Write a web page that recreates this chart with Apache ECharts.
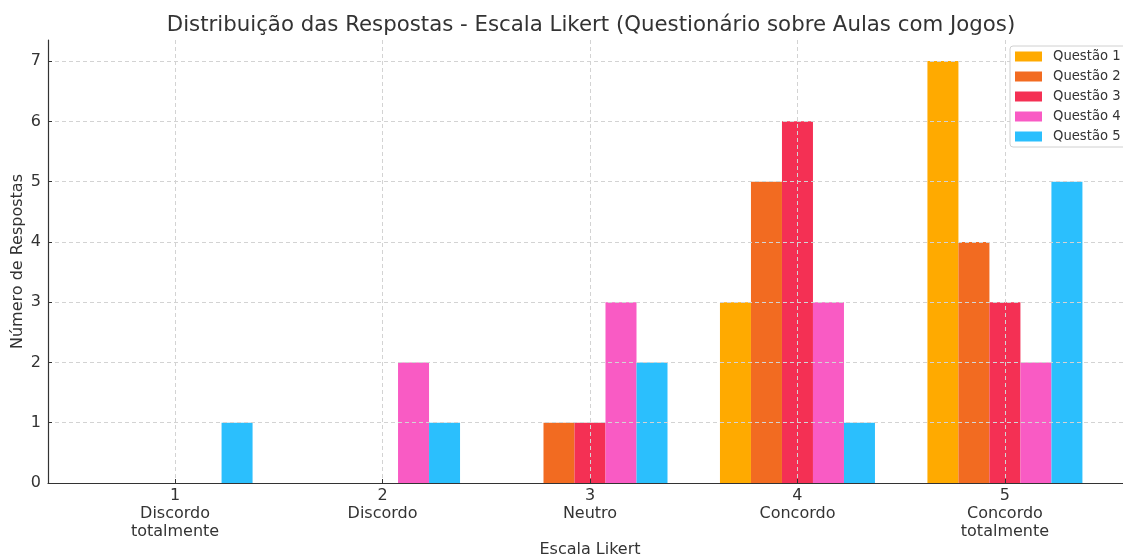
<!DOCTYPE html>
<html>
<head>
<meta charset="utf-8">
<script src="https://cdn.jsdelivr.net/npm/echarts@6/dist/echarts.min.js"></script>
<style>html,body{margin:0;padding:0;background:#fff;}#c{width:1123px;height:560px;}</style>
</head>
<body>
<div id="c"></div>
<script>
const likertValues = [1, 2, 3, 4, 5];
const likertLabels = ['Discordo\ntotalmente', 'Discordo', 'Neutro', 'Concordo', 'Concordo\ntotalmente'];
const seriesNames = ['Questão 1', 'Questão 2', 'Questão 3', 'Questão 4', 'Questão 5'];
const q1 = [0, 0, 0, 3, 7];
const q2 = [0, 0, 1, 5, 4];
const q3 = [0, 0, 1, 6, 3];
const q4 = [0, 2, 3, 3, 2];
const q5 = [1, 1, 2, 1, 5];
const yTicks = [0, 1, 2, 3, 4, 5, 6, 7];
const colors = ['#FFAA00', '#F26B21', '#F43054', '#F95BC4', '#2BBFFD'];

const allSeries = [q1, q2, q3, q4, q5];
const chart = echarts.init(document.getElementById('c'), null, {renderer: 'canvas'});
const font = 'DejaVu Sans';
chart.setOption({
  animation: false,
  textStyle: {fontFamily: font},
  title: {
    text: 'Distribuição das Respostas - Escala Likert (Questionário sobre Aulas com Jogos)',
    left: 586, top: 10, textAlign: 'center',
    textStyle: {fontFamily: font, fontSize: 21.3, fontWeight: 'normal', color: '#333'}
  },
  legend: {
    orient: 'vertical', left: 1010, top: 46,
    itemWidth: 27, itemHeight: 10, itemGap: 7,
    padding: [4, 8, 4, 5],
    borderColor: '#d0d0d0', borderWidth: 1, borderRadius: 3,
    backgroundColor: '#fff',
    textStyle: {fontFamily: font, fontSize: 13.2, color: '#333', padding: [0, 0, 0, 6]},
    icon: 'rect',
    data: seriesNames
  },
  grid: {left: 48, right: -9, top: 40, bottom: 77, containLabel: false, outerBoundsMode: 'none'},
  xAxis: {
    type: 'value', min: 0.3875, max: 5.6125,
    z: 3,
    name: 'Escala Likert', nameLocation: 'middle', nameGap: 59, nameMoveOverlap: false,
    nameTextStyle: {fontFamily: font, fontSize: 16, color: '#333'},
    axisLine: {show: true, onZero: false, lineStyle: {color: '#333', width: 1.2}},
    axisTick: {show: true, inside: true, length: 4, customValues: likertValues, lineStyle: {color: '#333'}},
    axisLabel: {
      customValues: likertValues, margin: 4,
      fontFamily: font, fontSize: 16, color: '#333', lineHeight: 18,
      formatter: v => { const i = likertValues.indexOf(Math.round(v)); return i >= 0 ? likertValues[i] + '\n' + likertLabels[i] : ''; }
    },
    splitLine: {show: true, lineStyle: {color: '#d3d3d3', type: [4, 3], width: 1}}
  },
  yAxis: {
    type: 'value', min: 0, max: 7.35,
    z: 3,
    name: 'Número de Respostas', nameLocation: 'middle', nameGap: 22, nameRotate: 90, nameMoveOverlap: false,
    nameTextStyle: {fontFamily: font, fontSize: 16, color: '#333'},
    axisLine: {show: true, lineStyle: {color: '#333', width: 1.2}},
    axisTick: {show: true, inside: true, length: 4, customValues: yTicks, lineStyle: {color: '#333'}},
    axisLabel: {customValues: yTicks, margin: 7, fontFamily: font, fontSize: 16, color: '#333'},
    splitLine: {show: true, lineStyle: {color: '#d3d3d3', type: [4, 3], width: 1}}
  },
  series: allSeries.map((arr, k) => ({
    name: seriesNames[k],
    type: 'bar',
    barWidth: 31,
    barGap: '0%',
    itemStyle: {color: colors[k]},
    data: likertValues.map((x, i) => [x, arr[i]])
  }))
});
</script>
</body>
</html>
